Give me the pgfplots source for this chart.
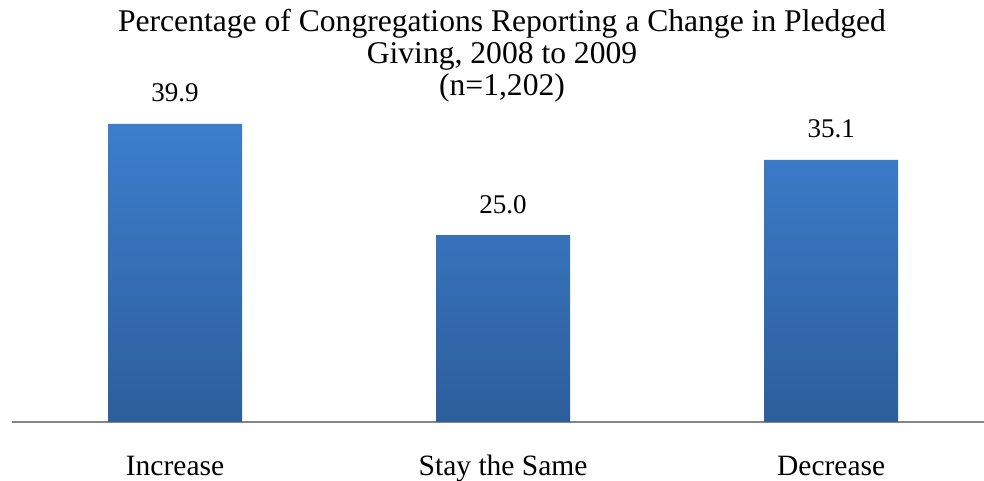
\documentclass[border=0pt]{standalone}
\usepackage{fontspec}
\setmainfont{Liberation Serif}
\usepackage{pgfplots}
\pgfplotsset{compat=1.18}
\definecolor{barTop}{RGB}{60,126,205}
\definecolor{barBot}{RGB}{45,94,155}
\definecolor{axisGray}{RGB}{134,134,134}
\begin{document}
\begin{tikzpicture}[x=1pt,y=1pt]
\begin{axis}[
    at={(12pt,59pt)}, anchor=south west,
    scale only axis, width=972pt, height=350pt,
    xmin=-0.497, xmax=2.466, ymin=0, ymax=46.85,
    hide y axis,
    axis x line*=bottom,
    x axis line style={axisGray, line width=1.5pt},
    xtick={0,1,2},
    xticklabels={Increase, Stay the Same, Decrease},
    major tick length=0pt,
    xticklabel style={font=\fontsize{29.5}{32}\selectfont, anchor=base, yshift=-53pt},
    ybar, bar width=134pt,
    nodes near coords,
    nodes near coords style={font=\fontsize{27}{30}\selectfont, anchor=base, yshift=22pt,
        /pgf/number format/.cd, fixed, fixed zerofill, precision=1, assume math mode=true},
]
\addplot[draw=none, top color=barTop, bottom color=barBot] coordinates {
    (0,39.9)
    (1,25.0)
    (2,35.1)
};
\end{axis}
\begin{scope}[font=\fontsize{31.6}{32}\selectfont]
\node[anchor=base] at (502,449) {Percentage of Congregations Reporting a Change in Pledged};
\node[anchor=base] at (502,417) {Giving, 2008 to 2009};
\node[anchor=base] at (502,385) {(n=1,202)};
\end{scope}
\pgfresetboundingbox
\path (0,0) rectangle (984,481);
\end{tikzpicture}
\end{document}
